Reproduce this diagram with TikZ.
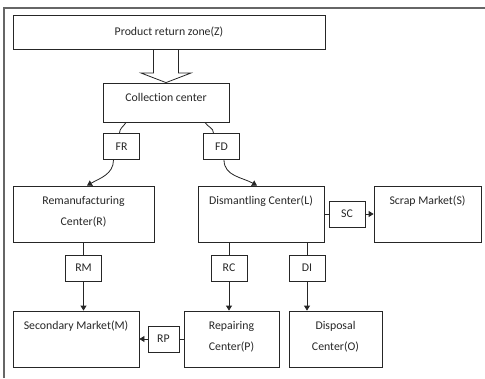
\documentclass[tikz,border=0pt]{standalone}
\usepackage{fontspec}
\setmainfont{Carlito}[Ligatures=CommonOff]
\usetikzlibrary{arrows.meta}

\begin{document}
\begin{tikzpicture}[
		x=1pt, y=-1pt,
		>={Triangle[length=5pt,width=6pt]},
		box/.style={draw=black!85, line width=0.8pt, text=black!85, font=\fontsize{11.8}{21}\selectfont},
		tag/.style={box, minimum width=36, minimum height=26, inner sep=0pt},
		txt/.style={anchor=north, align=center, yshift=-7, text=black!85, font=\fontsize{11.8}{21}\selectfont},
		flow/.style={draw=black!85, line width=0.8pt}
	]
	\useasboundingbox (0,0) rectangle (485,378);
	\draw[black!60, line width=1.5pt] (4,378) -- (4,8) -- (485,8);

	\node[box, minimum width=312, minimum height=34] (zone) at (169,32) {Product return zone(Z)};
	\node[box, minimum width=126, minimum height=39, label={[txt]north:Collection center}] (coll) at (166,102.5) {};
	\node[tag] (fr) at (121.5,146.5) {FR};
	\node[tag] (fd) at (221.5,146.5) {FD};
	\node[box, minimum width=141, minimum height=56, label={[txt]north:{Remanufacturing\\Center(R)}}] (rem) at (83.5,214) {};
	\node[box, minimum width=126, minimum height=56, label={[txt]north:Dismantling Center(L)}] (dis) at (261,214) {};
	\node[box, minimum width=107, minimum height=56, label={[txt]north:Scrap Market(S)}] (scrap) at (427.5,214) {};
	\node[tag] (sc) at (347,214) {SC};
	\node[tag] (rm) at (83.5,268) {RM};
	\node[tag] (rc) at (229,268) {RC};
	\node[tag] (di) at (307,268) {DI};
	\node[box, minimum width=126, minimum height=56, label={[txt]north:Secondary Market(M)}] (sec) at (76,339) {};
	\node[box, minimum width=95, minimum height=56, label={[txt]north:{Repairing\\Center(P)}}] (rep) at (231.5,339) {};
	\node[box, minimum width=93, minimum height=56, label={[txt]north:{Disposal\\Center(O)}}] (disp) at (335.5,339) {};
	\node[tag, minimum width=31] (rp) at (163.5,339) {RP};

	% hollow arrow from the return zone
	\draw[flow] (153.5,49) -- (153.5,73) -- (141,73) -- (coll.north) -- (191,73) -- (178.5,73) -- (178.5,49);

	\draw[flow] ([xshift=-40]coll.south) to[out=-120,in=90] ([xshift=-2]fr.north);
	\draw[flow] ([xshift=39]coll.south) to[out=-60,in=90] ([xshift=-8]fd.north);
	\draw[flow,->] ([xshift=-8]fr.south) to[out=-90,in=30] ([xshift=3.5]rem.north);
	\draw[flow,->] ([xshift=2.5]fd.south) to[out=-90,in=150] ([xshift=-4]dis.north);

	\draw[flow] (rem.south -| rm.north) -- (rm.north);
	\draw[flow,->] (rm.south) -- (rm.south |- sec.north);
	\draw[flow] (dis.south -| rc.north) -- (rc.north);
	\draw[flow,->] (rc.south) -- (rc.south |- rep.north);
	\draw[flow] (dis.south -| di.north) -- (di.north);
	\draw[flow,->] (di.south) -- (di.south |- disp.north);
	\draw[flow] (dis.east) -- (sc.west);
	\draw[flow,->] (sc.east) -- (scrap.west);
	\draw[flow] (rep.west) -- (rp.east);
	\draw[flow,->] (rp.west) -- (sec.east);
\end{tikzpicture}
\end{document}
